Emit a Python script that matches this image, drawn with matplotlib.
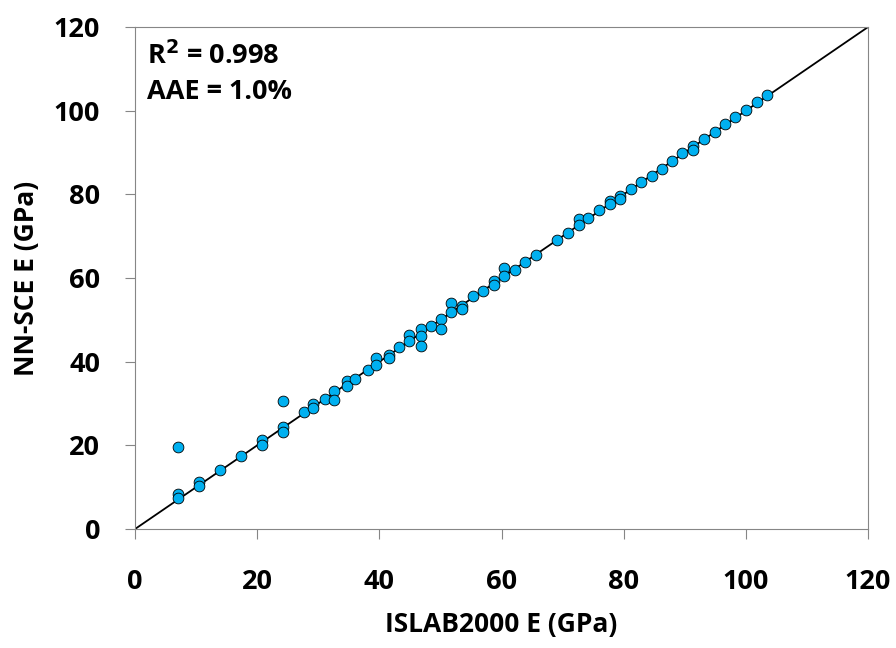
import matplotlib
matplotlib.use('Agg')
import matplotlib.pyplot as plt

plt.rcParams['font.family'] = ['Open Sans', 'DejaVu Sans']
plt.rcParams['font.weight'] = 'bold'

# ISLAB2000 E vs NN-SCE E (GPa)
islab = [7.1, 7.1, 7.1, 10.5, 10.5, 13.9, 17.4, 20.8, 20.8, 24.2, 24.2, 24.2,
         27.7, 29.1, 29.1, 31.1, 32.6, 32.6, 34.7, 34.7, 36.0, 38.2, 39.5, 39.5,
         41.5, 41.5, 43.2, 44.9, 44.9, 46.8, 46.8, 46.8, 48.4, 50.1, 50.1,
         51.8, 51.8, 53.5, 53.5, 55.3, 56.9, 58.7, 58.7, 60.4, 60.4, 62.2,
         63.9, 65.6, 69.1, 70.9, 72.6, 72.6, 74.2, 76.0, 77.8, 77.8, 79.4, 79.4,
         81.2, 82.8, 84.6, 86.3, 87.9, 89.6, 91.4, 91.4, 93.2, 95.0, 96.6,
         98.3, 100.1, 101.8, 103.4]
nnsce = [19.6, 8.4, 7.3, 11.3, 10.3, 14.0, 17.5, 21.2, 20.0, 30.5, 24.4, 23.3,
         27.9, 29.9, 29.0, 31.1, 32.9, 30.9, 35.3, 34.2, 35.9, 38.1, 40.9, 39.3,
         41.7, 41.0, 43.4, 46.5, 44.9, 47.7, 46.1, 43.7, 48.5, 50.1, 47.8,
         54.1, 51.8, 53.4, 52.6, 55.6, 56.8, 59.2, 58.4, 62.4, 60.4, 61.9,
         63.8, 65.6, 69.2, 70.8, 74.0, 72.6, 74.4, 76.3, 78.4, 77.8, 79.6, 78.8,
         81.2, 82.9, 84.4, 86.1, 88.0, 89.8, 91.6, 90.6, 93.3, 95.0, 96.8,
         98.5, 100.1, 102.0, 103.7]
ticks = [0, 20, 40, 60, 80, 100, 120]

fig = plt.figure(figsize=(8.96, 6.48), dpi=100)
ax = fig.add_axes([0.1507, 0.1836, 0.8181, 0.7747])

ax.plot([0, 120], [0, 120], color='black', lw=1.3, zorder=2)
ax.scatter(islab, nnsce, s=60, color='#00B0F0', edgecolor='black',
           linewidth=0.6, zorder=3)

ax.set_xlim(0, 120)
ax.set_ylim(0, 120)
ax.set_xticks(ticks)
ax.set_yticks(ticks)
ax.set_xticklabels(ticks, fontweight='bold')
ax.set_yticklabels(ticks, fontweight='bold')
for s in ax.spines.values():
    s.set_color('#868686')
ax.tick_params(direction='out', length=7, color='#868686', labelsize=19.5)
ax.tick_params(axis='x', pad=22)
ax.tick_params(axis='y', pad=18)

ax.set_xlabel('ISLAB2000 E (GPa)', fontsize=19, fontweight='bold', labelpad=11)
ax.set_ylabel('NN-SCE E (GPa)', fontsize=19, fontweight='bold', labelpad=10)

ax.text(0.016, 0.926, 'R$^\\mathbf{2}$ = 0.998', transform=ax.transAxes,
        fontsize=19.5, fontweight='bold', va='baseline')
ax.text(0.016, 0.856, 'AAE = 1.0%', transform=ax.transAxes,
        fontsize=19.5, fontweight='bold', va='baseline')

plt.savefig('out.png', dpi=100)
